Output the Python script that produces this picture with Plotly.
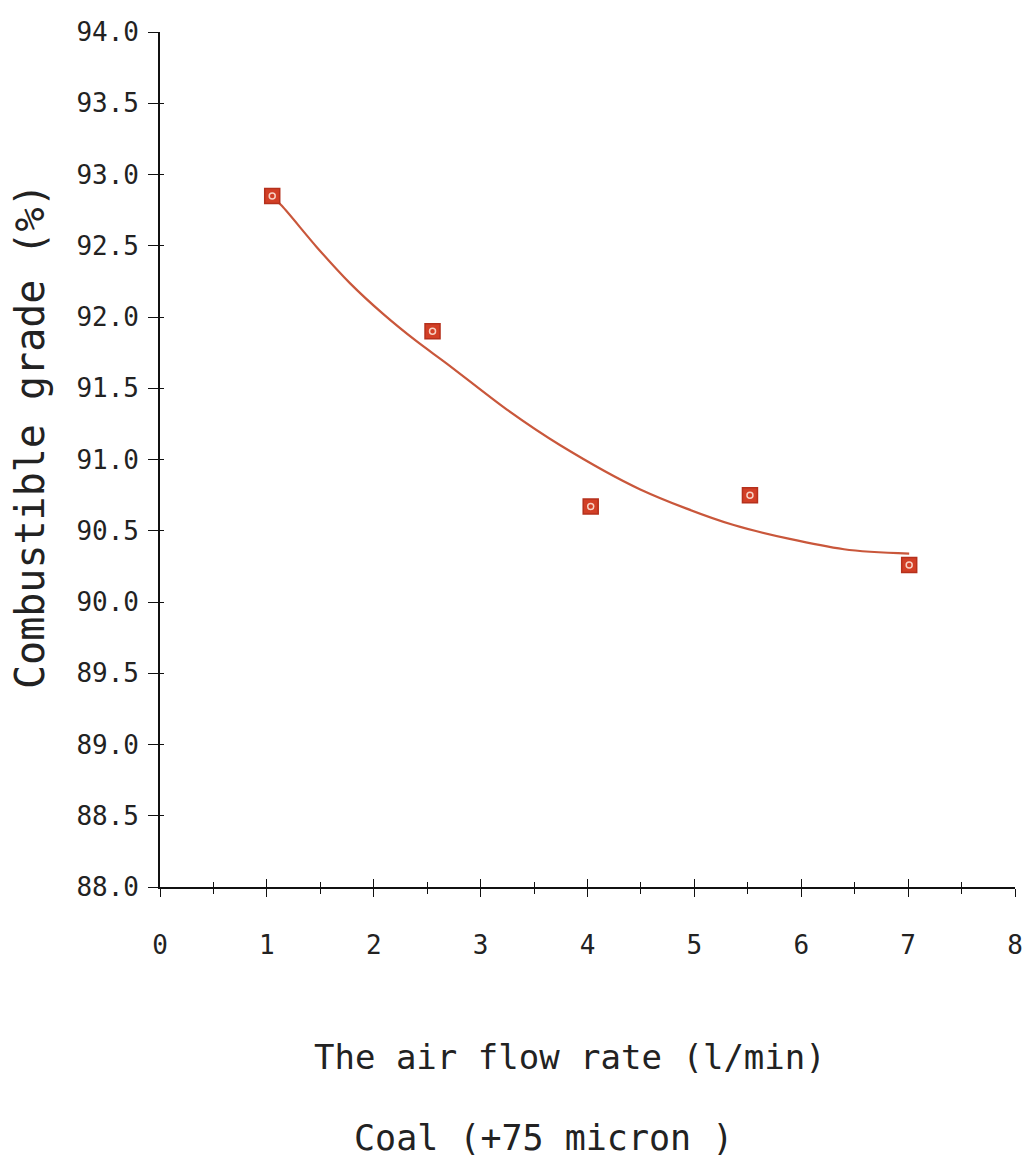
import plotly.graph_objects as go

# Measured data points
air_flow = [1.05, 2.55, 4.03, 5.52, 7.01]
grade = [92.85, 91.90, 90.67, 90.75, 90.26]

# Fitted curve
curve_x = [1.03, 1.14, 1.467, 1.779, 2.09, 2.40, 2.68, 3.246, 3.745, 4.494, 5.368, 6.40, 7.01]
curve_y = [92.86, 92.78, 92.49, 92.236, 92.02, 91.83, 91.675, 91.35, 91.10, 90.79, 90.54, 90.37, 90.34]

x_ticks = [0, 1, 2, 3, 4, 5, 6, 7, 8]
y_ticks = [88.0, 88.5, 89.0, 89.5, 90.0, 90.5, 91.0, 91.5, 92.0, 92.5, 93.0, 93.5, 94.0]

FONT = "DejaVu Sans Mono"
TXT = "#222222"
OFF = 8  # default page body margin
W, H = 1032 - OFF, 1164 - OFF
L, T = 160 - OFF, 32 - OFF
PW, PH = 855, 855
R, B = W - L - PW, H - T - PH

fig = go.Figure()
fig.add_trace(go.Scatter(x=curve_x, y=curve_y, mode="lines",
                         line=dict(color="#c9573b", width=2.2, shape="spline", smoothing=0.8),
                         showlegend=False, hoverinfo="skip"))
fig.add_trace(go.Scatter(x=air_flow, y=grade, mode="markers",
                         marker=dict(symbol="square", size=15, color="#d23f26",
                                     line=dict(color="#b5301c", width=1.5)),
                         showlegend=False))
fig.add_trace(go.Scatter(x=air_flow, y=grade, mode="markers",
                         marker=dict(symbol="circle-open", size=6, color="#f7d2c4",
                                     line=dict(color="#f7d2c4", width=1.5)),
                         showlegend=False, hoverinfo="skip"))
# invisible trace to activate secondary axes (for crossing tick marks)
fig.add_trace(go.Scatter(x=[air_flow[0]], y=[grade[0]], mode="markers",
                         marker=dict(opacity=0), xaxis="x2", yaxis="y2",
                         showlegend=False, hoverinfo="skip"))

axis_common = dict(showgrid=False, zeroline=False, showline=True, automargin=False,
                   linecolor="#111111", linewidth=1.6, mirror=False)

fig.update_layout(
    width=W, height=H,
    margin=dict(l=L, r=R, t=T, b=B, autoexpand=False),
    paper_bgcolor="white", plot_bgcolor="white",
    xaxis=dict(range=[0, 8], tickvals=x_ticks, ticks="outside", ticklen=8,
               tickwidth=1.3, tickcolor="#111111",
               minor=dict(dtick=0.5, tick0=0, ticks="outside", ticklen=5,
                          tickwidth=1.1, tickcolor="#111111"),
               tickfont=dict(family=FONT, size=26, color=TXT),
               ticklabelstandoff=26, **axis_common),
    yaxis=dict(range=[88, 94], tickvals=y_ticks, tickformat=".1f",
               ticks="outside", ticklen=10, tickwidth=1.3, tickcolor="#111111",
               tickfont=dict(family=FONT, size=26, color=TXT),
               ticklabelstandoff=4, **axis_common),
    xaxis2=dict(range=[0, 8], overlaying="x", matches="x", side="bottom",
                anchor="y", tickvals=x_ticks, ticks="inside", ticklen=8,
                tickwidth=1.3, tickcolor="#111111", automargin=False,
                minor=dict(dtick=0.5, tick0=0, ticks="inside", ticklen=5,
                           tickwidth=1.1, tickcolor="#111111"),
                showticklabels=False, showgrid=False, zeroline=False, showline=False),
    yaxis2=dict(range=[88, 94], overlaying="y", matches="y", side="left",
                anchor="x", tickvals=y_ticks, ticks="inside", ticklen=4,
                tickwidth=1.3, tickcolor="#111111", automargin=False,
                showticklabels=False, showgrid=False, zeroline=False, showline=False),
)

def px_x(px):
    return (px - OFF - L) / PW

def px_y(py):
    return (T + PH - (py - OFF)) / PH

fig.add_annotation(text="The air flow rate (l/min)", xref="paper", yref="paper",
                   x=px_x(570), y=px_y(1057), xanchor="center", yanchor="middle",
                   showarrow=False, font=dict(family=FONT, size=34, color=TXT))
fig.add_annotation(text="Coal (+75 micron )", xref="paper", yref="paper",
                   x=px_x(543), y=px_y(1138), xanchor="center", yanchor="middle",
                   showarrow=False, font=dict(family=FONT, size=35, color=TXT))
fig.add_annotation(text="Combustible grade (%)", xref="paper", yref="paper",
                   x=px_x(30), y=px_y(436), xanchor="center", yanchor="middle",
                   textangle=-90, showarrow=False,
                   font=dict(family=FONT, size=40, color=TXT))

fig.write_html("out.html")
